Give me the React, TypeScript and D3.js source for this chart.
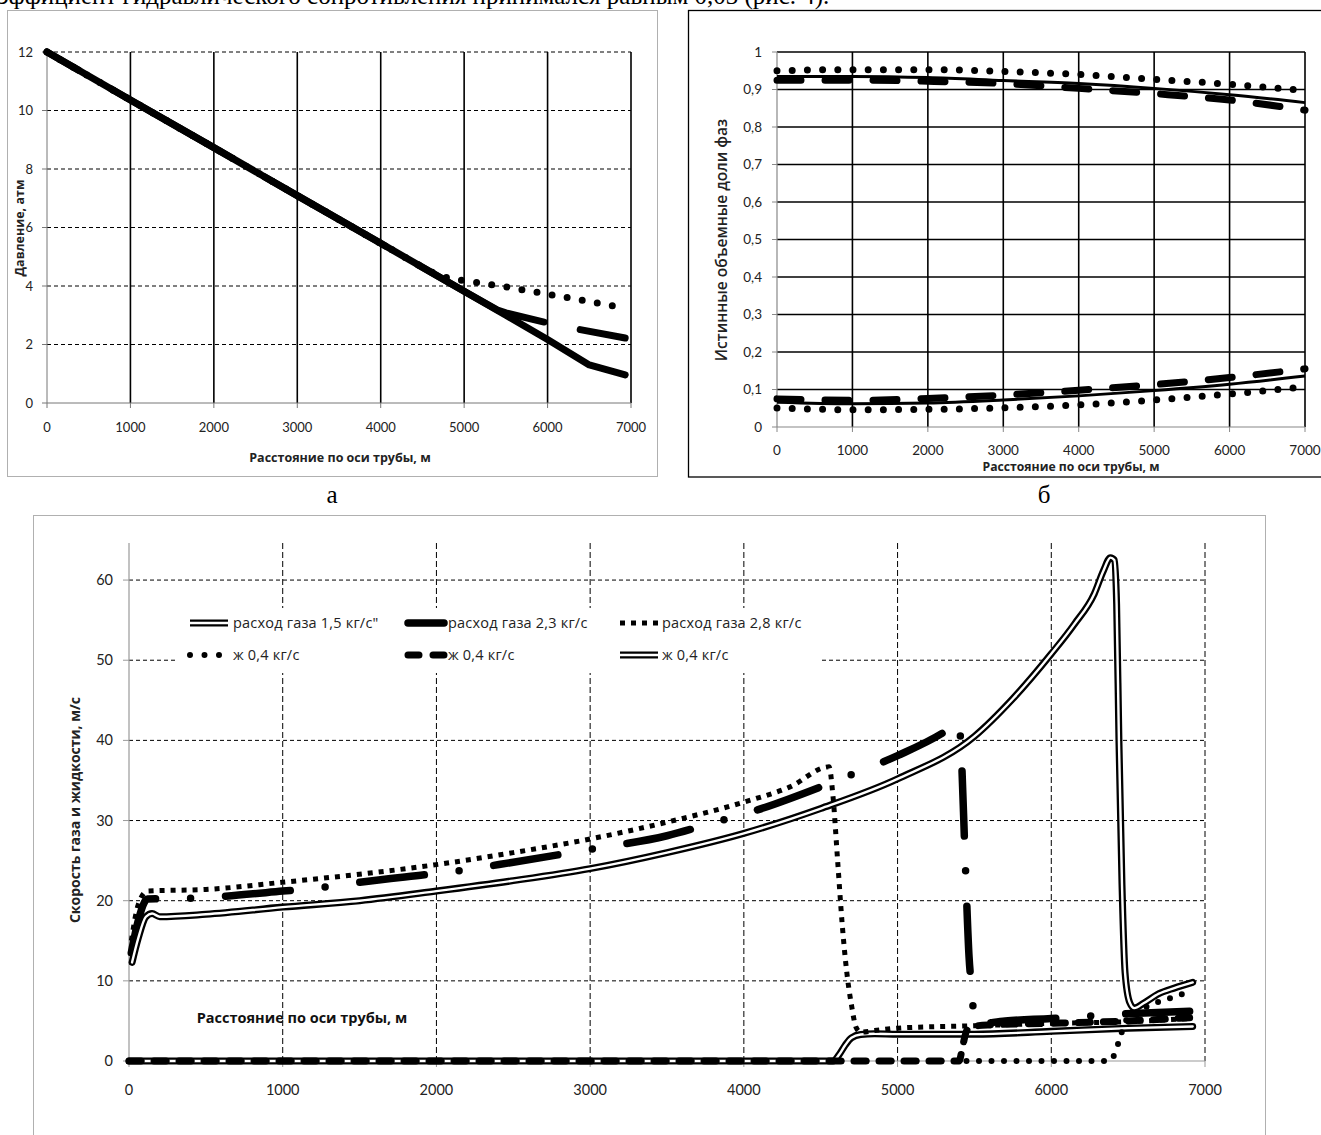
import React from 'react';
import * as d3 from 'd3';

// ---------- shared ----------
const distanceTicks = [0, 1000, 2000, 3000, 4000, 5000, 6000, 7000];
const xTitle = 'Расстояние по оси трубы, м';

// ---------- panel а: pressure ----------
const pressureTicks = [0, 2, 4, 6, 8, 10, 12];
const pSolidX = [0, 1000, 2000, 3000, 4000, 5000, 5500, 6000, 6500, 6930];
const pSolidY = [12, 10.36, 8.73, 7.09, 5.46, 3.82, 3.0, 2.17, 1.3, 0.96];
const pDashX = [0, 1000, 2000, 3000, 4000, 5000, 5400, 5500, 6000, 6350, 6930];
const pDashY = [12, 10.36, 8.73, 7.09, 5.46, 3.82, 3.18, 3.08, 2.74, 2.53, 2.22];
const pDotX = [0, 1000, 2000, 3000, 4000, 4500, 4700, 4900, 5200, 5500, 6000, 6500, 6930];
const pDotY = [12, 10.36, 8.73, 7.09, 5.46, 4.64, 4.35, 4.22, 4.1, 3.97, 3.72, 3.47, 3.24];

// ---------- panel б: volume fractions ----------
const fracTicks = [0, 0.1, 0.2, 0.3, 0.4, 0.5, 0.6, 0.7, 0.8, 0.9, 1];
const fracX = [0, 1000, 2000, 3000, 4000, 5000, 6000, 7000];
const gasSolid = [0.935, 0.935, 0.932, 0.924, 0.916, 0.903, 0.886, 0.865];
const gasDash = [0.925, 0.925, 0.922, 0.916, 0.903, 0.889, 0.872, 0.845];
const gasDot = [0.95, 0.953, 0.953, 0.948, 0.94, 0.927, 0.914, 0.897];
const liqSolid = [0.066, 0.062, 0.064, 0.072, 0.083, 0.097, 0.114, 0.136];
const liqDash = [0.075, 0.071, 0.076, 0.085, 0.098, 0.113, 0.132, 0.155];
const liqDot = [0.051, 0.046, 0.047, 0.051, 0.059, 0.072, 0.088, 0.107];

// ---------- bottom panel: velocities ----------
const speedTicks = [0, 10, 20, 30, 40, 50, 60];
const g15X = [20, 60, 110, 150, 200, 500, 1000, 1500, 2000, 2500, 3000, 3500, 4000, 4500, 5000, 5500, 5750, 6000, 6150, 6280, 6340, 6385, 6410, 6425, 6440, 6460, 6480, 6510, 6540, 6600, 6700, 6800, 6920];
const g15Y = [12.3, 15.3, 18.0, 18.4, 18.0, 18.3, 19.2, 20.0, 21.2, 22.5, 24.0, 26.0, 28.4, 31.5, 35.2, 40.5, 45.2, 50.8, 54.5, 58.3, 61.2, 62.8, 62.5, 57, 40, 22, 11, 7.3, 6.6, 7.2, 8.4, 9.1, 9.8];
const g23X = [15, 60, 120, 400, 1000, 1270, 1500, 2000, 2130, 2500, 3000, 3500, 3850, 4000, 4500, 4670, 5000, 5300, 5400, 5415, 5440, 5465, 5485, 5500, 5700, 6000, 6400, 6900];
const g23Y = [13.5, 17.5, 20.2, 20.3, 21.2, 21.7, 22.3, 23.4, 23.7, 24.8, 26.4, 28.1, 30.0, 30.8, 34.2, 35.5, 38.1, 41.0, 42.3, 38, 25, 13, 8.5, 4.6, 5.0, 5.3, 5.8, 6.2];
const g28X = [15, 60, 120, 500, 1000, 1500, 2000, 2500, 3000, 3500, 4000, 4300, 4554, 4580, 4610, 4640, 4670, 4700, 4730, 4760, 4850, 5000, 5500, 6000, 6500, 6900];
const g28Y = [15, 19.5, 21.2, 21.4, 22.3, 23.3, 24.5, 26.0, 27.7, 29.8, 32.3, 34.2, 36.7, 33, 25, 17, 11, 7, 4.2, 3.6, 3.8, 4.1, 4.4, 4.7, 4.9, 5.3];
const l1X = [0, 6380, 6415, 6445, 6480, 6530, 6600, 6700, 6800, 6900];
const l1Y = [0, 0, 1.0, 2.8, 4.8, 5.9, 6.6, 7.4, 8.0, 8.7];
const l2X = [0, 5400, 5425, 5450, 5480, 5600, 6000, 6500, 6900];
const l2Y = [0, 0, 2.0, 3.8, 4.3, 4.5, 4.7, 5.0, 5.4];
const l3X = [0, 4580, 4620, 4660, 4700, 4760, 4850, 5000, 5500, 6000, 6500, 6920];
const l3Y = [0, 0, 0.8, 2.0, 2.9, 3.3, 3.4, 3.35, 3.35, 3.7, 4.1, 4.3];

const legendRow1 = ['расход газа 1,5 кг/с"', 'расход газа 2,3 кг/с', 'расход газа 2,8 кг/с'];
const legendRow2 = ['ж 0,4 кг/с', 'ж 0,4 кг/с', 'ж 0,4 кг/с'];

const SANS = 'Lato, "Open Sans", "DejaVu Sans", sans-serif';
const WIDE = '"Open Sans", Lato, "DejaVu Sans", sans-serif';
const SERIF = '"Liberation Serif", "DejaVu Serif", serif';

type Sc = d3.ScaleLinear<number, number>;
const zip = (xs: number[], ys: number[]) => xs.map((x, i) => [x, ys[i]] as [number, number]);
const mkPath = (xs: number[], ys: number[], sx: Sc, sy: Sc, curve: d3.CurveFactory = d3.curveLinear) =>
  d3.line<[number, number]>().x(d => sx(d[0])).y(d => sy(d[1])).curve(curve)(zip(xs, ys)) || '';

const fmtComma = (v: number) => (v === 0 || v === 1 ? String(v) : d3.format('.1f')(v).replace('.', ','));

function PanelA() {
  const x = d3.scaleLinear().domain([0, 7000]).range([47, 631]);
  const y = d3.scaleLinear().domain([0, 12]).range([403, 52]);
  // dash phase so that the visible gap of the dashed series falls between 6000 and 6350 m
  const pts = zip(pDashX, pDashY).map(d => [x(d[0]), y(d[1])]);
  let L = 0;
  const cum = [0];
  for (let i = 1; i < pts.length; i++) {
    L += Math.hypot(pts[i][0] - pts[i - 1][0], pts[i][1] - pts[i - 1][1]);
    cum.push(L);
  }
  const k = pDashX.indexOf(6000);
  const gapLen = cum[k + 1] - cum[k] + 7;
  const D = 140;
  const P = D + gapLen;
  const off = (((D - (cum[k] - 3.5)) % P) + P) % P;
  return (
    <g>
      <rect x={7.5} y={10.5} width={650} height={466} fill="white" stroke="#b0b0b0" strokeWidth={1} />
      {pressureTicks.filter(t => t > 0).map(t => (
        <line key={'h' + t} x1={x(0)} x2={x(7000)} y1={y(t)} y2={y(t)} stroke="#000" strokeWidth={1} strokeDasharray="4,3" />
      ))}
      {distanceTicks.filter(t => t > 0).map(t => (
        <line key={'v' + t} x1={x(t)} x2={x(t)} y1={y(12)} y2={y(0)} stroke="#000" strokeWidth={1.6} />
      ))}
      <line x1={x(0)} x2={x(0)} y1={y(12)} y2={y(0)} stroke="#777" strokeWidth={1} />
      <line x1={x(0)} x2={x(7000)} y1={y(0)} y2={y(0)} stroke="#777" strokeWidth={1} />
      {pressureTicks.map(t => (
        <g key={'yt' + t}>
          <line x1={x(0) - 5} x2={x(0)} y1={y(t)} y2={y(t)} stroke="#777" />
          <text x={33} y={y(t)} dy="0.35em" textAnchor="end" fontFamily={SANS} fontSize={13} fill="#222">{t}</text>
        </g>
      ))}
      {distanceTicks.map(t => (
        <g key={'xt' + t}>
          <line x1={x(t)} x2={x(t)} y1={y(0)} y2={y(0) + 5} stroke="#777" />
          <text x={x(t)} y={432} textAnchor="middle" fontFamily={SANS} fontSize={13} fill="#222">{t}</text>
        </g>
      ))}
      <path d={mkPath(pSolidX, pSolidY, x, y)} fill="none" stroke="#000" strokeWidth={7} strokeLinejoin="round" strokeLinecap="round" />
      <path d={mkPath(pDashX, pDashY, x, y)} fill="none" stroke="#000" strokeWidth={7} strokeLinecap="round" strokeLinejoin="round"
        strokeDasharray={`${D} ${gapLen}`} strokeDashoffset={off} />
      <path d={mkPath(pDotX, pDotY, x, y)} fill="none" stroke="#000" strokeWidth={7} strokeLinecap="round" strokeDasharray="0 15.3" />
      <text x={340} y={462} textAnchor="middle" fontFamily={WIDE} fontWeight={700} fontSize={12.5} fill="#222">{xTitle}</text>
      <text transform="translate(24,228) rotate(-90)" textAnchor="middle" fontFamily={WIDE} fontWeight={700} fontSize={12.5} fill="#222">Давление, атм</text>
    </g>
  );
}

function PanelB() {
  const x = d3.scaleLinear().domain([0, 7000]).range([777, 1305]);
  const y = d3.scaleLinear().domain([0, 1]).range([427, 52]);
  const c = d3.curveMonotoneX;
  return (
    <g>
      <rect x={688.5} y={10.5} width={660} height={466.5} fill="white" stroke="#000" strokeWidth={1.3} />
      {fracTicks.filter(t => t > 0).map(t => (
        <line key={'h' + t} x1={x(0)} x2={x(7000)} y1={y(t)} y2={y(t)} stroke="#000" strokeWidth={1.6} />
      ))}
      {distanceTicks.filter(t => t > 0).map(t => (
        <line key={'v' + t} x1={x(t)} x2={x(t)} y1={y(1)} y2={y(0)} stroke="#000" strokeWidth={1.6} />
      ))}
      <line x1={x(0)} x2={x(0)} y1={y(1)} y2={y(0)} stroke="#888" strokeWidth={1.2} />
      <line x1={x(0)} x2={x(7000)} y1={y(0)} y2={y(0)} stroke="#888" strokeWidth={1.2} />
      {fracTicks.map(t => (
        <g key={'yt' + t}>
          <line x1={x(0) - 5} x2={x(0)} y1={y(t)} y2={y(t)} stroke="#888" />
          <text x={762} y={y(t)} dy="0.35em" textAnchor="end" fontFamily={SANS} fontSize={13.5} fill="#222">{fmtComma(t)}</text>
        </g>
      ))}
      {distanceTicks.map(t => (
        <g key={'xt' + t}>
          <line x1={x(t)} x2={x(t)} y1={y(0)} y2={y(0) + 5} stroke="#888" />
          <text x={x(t)} y={455} textAnchor="middle" fontFamily={SANS} fontSize={13.5} fill="#222">{t}</text>
        </g>
      ))}
      {[gasSolid, liqSolid].map((s, i) => (
        <path key={'s' + i} d={mkPath(fracX, s, x, y, c)} fill="none" stroke="#000" strokeWidth={3} />
      ))}
      {[gasDash, liqDash].map((s, i) => (
        <path key={'d' + i} d={mkPath(fracX, s, x, y, c)} fill="none" stroke="#000" strokeWidth={7} strokeLinecap="round" strokeDasharray="24 24" />
      ))}
      {[gasDot, liqDot].map((s, i) => (
        <path key={'o' + i} d={mkPath(fracX, s, x, y, c)} fill="none" stroke="#000" strokeWidth={7} strokeLinecap="round" strokeDasharray="0 15.2" />
      ))}
      <text x={1071} y={471} textAnchor="middle" fontFamily={WIDE} fontWeight={700} fontSize={12.2} fill="#222">{xTitle}</text>
      <text transform="translate(727,240) rotate(-90)" textAnchor="middle" fontFamily={WIDE} fontWeight={600} fontSize={15.5} fill="#222">Истинные объемные доли фаз</text>
    </g>
  );
}

function DoubleLine({ d, cap = 'round' }: { d: string; cap?: 'round' | 'butt' }) {
  return (
    <g>
      <path d={d} fill="none" stroke="#000" strokeWidth={7} strokeLinejoin="round" strokeLinecap={cap} />
      <path d={d} fill="none" stroke="#fff" strokeWidth={2.4} strokeLinejoin="round" strokeLinecap={cap} />
    </g>
  );
}

function PanelC() {
  const x = d3.scaleLinear().domain([0, 7000]).range([129, 1205]);
  const y = d3.scaleLinear().domain([0, 65]).range([1061, 540]);
  const c = d3.curveMonotoneX;
  const g23Style = { stroke: '#000', strokeWidth: 7.5, strokeLinecap: 'round' as const, fill: 'none' };
  const legX = [190, 405, 620];
  const legTxt = [233, 448, 662];
  const seg = (x1: number, x2: number, yy: number) => `M${x1},${yy}L${x2},${yy}`;
  return (
    <g>
      <rect x={33.5} y={515.5} width={1232} height={640} fill="white" stroke="#b0b0b0" strokeWidth={1} />
      {speedTicks.filter(t => t > 0).map(t => (
        <line key={'h' + t} x1={x(0)} x2={x(7000)} y1={y(t)} y2={y(t)} stroke="#000" strokeWidth={1} strokeDasharray="4,3" />
      ))}
      {distanceTicks.filter(t => t > 0).map(t => (
        <line key={'v' + t} x1={x(t)} x2={x(t)} y1={543} y2={y(0)} stroke="#000" strokeWidth={1} strokeDasharray="6,3" />
      ))}
      <line x1={x(0)} x2={x(0)} y1={543} y2={y(0)} stroke="#999" strokeWidth={1.2} />
      <line x1={x(0)} x2={x(7000)} y1={y(0)} y2={y(0)} stroke="#999" strokeWidth={1.2} />
      {speedTicks.map(t => (
        <g key={'yt' + t}>
          <line x1={x(0) - 6} x2={x(0)} y1={y(t)} y2={y(t)} stroke="#999" />
          <text x={113} y={y(t)} dy="0.35em" textAnchor="end" fontFamily={SANS} fontSize={14.5} fill="#222">{t}</text>
        </g>
      ))}
      {distanceTicks.map(t => (
        <g key={'xt' + t}>
          <line x1={x(t)} x2={x(t)} y1={y(0)} y2={y(0) + 6} stroke="#999" />
          <text x={x(t)} y={1095} textAnchor="middle" fontFamily={SANS} fontSize={14.5} fill="#222">{t}</text>
        </g>
      ))}
      {/* liquids */}
      <DoubleLine d={mkPath(l3X, l3Y, x, y, c)} />
      <path d={mkPath(l1X, l1Y, x, y, c)} fill="none" stroke="#000" strokeWidth={6} strokeLinecap="round" strokeDasharray="0 12.5" />
      <path d={mkPath(l2X, l2Y, x, y, c)} fill="none" stroke="#000" strokeWidth={7} strokeLinecap="round" strokeDasharray="12 13" />
      {/* gases */}
      <path d={mkPath(g28X, g28Y, x, y, c)} fill="none" stroke="#000" strokeWidth={5} strokeDasharray="5 6" />
      <path d={mkPath(g23X, g23Y, x, y, c)} {...g23Style} strokeDasharray="65 35 0 35" />
      <DoubleLine d={mkPath(g15X, g15Y, x, y, c)} />
      {/* legend */}
      <rect x={178} y={608} width={644} height={65} fill="white" />
      <DoubleLine d={seg(legX[0], 228, 623)} cap="butt" />
      <path d={seg(legX[1] + 3, 444, 623)} {...g23Style} />
      <path d={seg(legX[2], 658, 623)} fill="none" stroke="#000" strokeWidth={5} strokeDasharray="5 6" />
      <path d={seg(legX[0], 222, 655)} fill="none" stroke="#000" strokeWidth={6} strokeLinecap="round" strokeDasharray="0 14.5" />
      <path d={seg(legX[1] + 3, 446, 655)} fill="none" stroke="#000" strokeWidth={7} strokeLinecap="round" strokeDasharray="11 14" />
      <DoubleLine d={seg(legX[2], 658, 655)} cap="butt" />
      {legendRow1.map((t, i) => (
        <text key={'l1' + i} x={legTxt[i]} y={623} dy="0.35em" fontFamily={WIDE} fontSize={14.5} letterSpacing={0.2} fill="#222">{t}</text>
      ))}
      {legendRow2.map((t, i) => (
        <text key={'l2' + i} x={legTxt[i]} y={655} dy="0.35em" fontFamily={WIDE} fontSize={14.5} letterSpacing={0.2} fill="#222">{t}</text>
      ))}
      <text x={302} y={1023} textAnchor="middle" fontFamily={WIDE} fontWeight={700} fontSize={14.5} fill="#111">{xTitle}</text>
      <text transform="translate(80,810) rotate(-90)" textAnchor="middle" fontFamily={WIDE} fontWeight={700} fontSize={14} fill="#222">Скорость газа и жидкости, м/с</text>
    </g>
  );
}

export default function App() {
  return (
    <svg width={1321} height={1135} viewBox="0 0 1321 1135"
      style={{ position: 'absolute', left: 0, top: 0, background: 'white' }}>
      <rect x={0} y={0} width={1321} height={1135} fill="white" />
      <text x={-2} y={4} fontFamily={SERIF} fontSize={25} fill="#000">эффициент гидравлического сопротивления принимался равным 0,03 (рис. 4).</text>
      <PanelA />
      <PanelB />
      <text x={332} y={503} textAnchor="middle" fontFamily={SERIF} fontSize={25} fill="#000">а</text>
      <text x={1044} y={503} textAnchor="middle" fontFamily={SERIF} fontSize={25} fill="#000">б</text>
      <PanelC />
    </svg>
  );
}
